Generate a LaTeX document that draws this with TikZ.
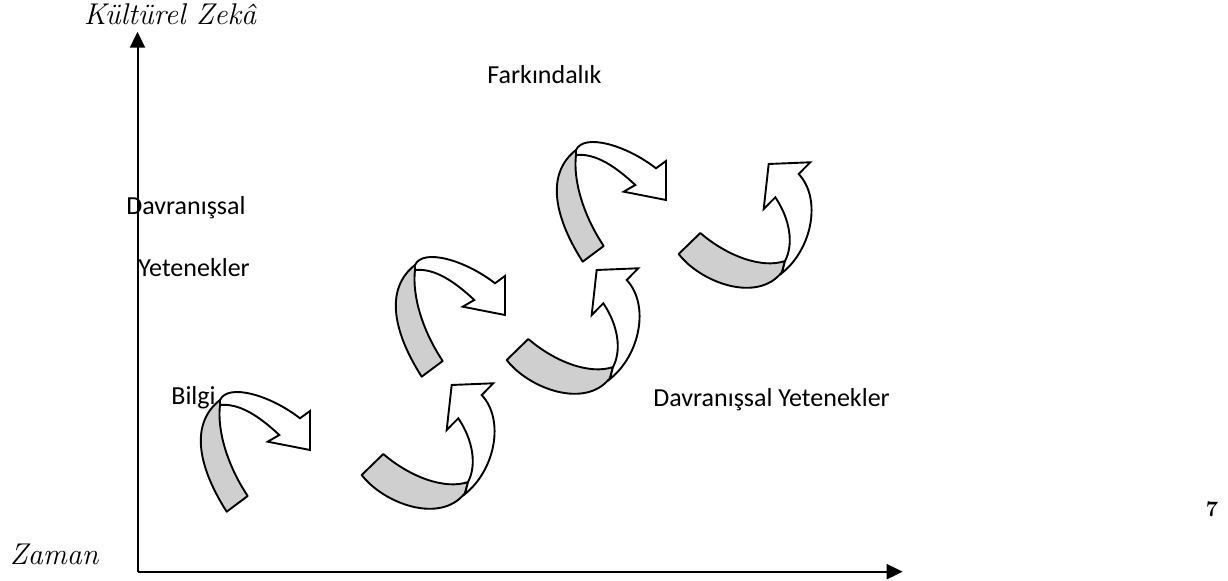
\documentclass[tikz,border=0pt]{standalone}
\usepackage{fontspec}
\newfontfamily\carl{Carlito}
\usetikzlibrary{arrows.meta}

\begin{document}
\begin{tikzpicture}[x=0.5pt,y=-0.5pt,
  lbl/.style={inner sep=0pt,anchor=base west,font=\carl\fontsize{13}{15}\selectfont},
  axtitle/.style={inner sep=0pt,anchor=base,font=\itshape\fontsize{15}{18}\selectfont},
  axis/.style={line width=1pt,-{Triangle[length=8pt,width=7.5pt]}},
  ribbon/.style={draw,line width=0.95pt,fill=black!19,line join=round},
  body/.style={draw,line width=0.95pt,fill=white,line join=miter}]
\useasboundingbox (0,0) rectangle (1228,581);
% labels
\node[axtitle] (kz) at (170,25) {Kültürel Zekâ};
\node[axtitle] (zaman) at (54,565) {Zaman};
\node[lbl] (fark) at (487,84) {Farkındalık};
\node[lbl] (dav1) at (126,215) {Davranışsal};
\node[lbl] (yet1) at (138,277) {Yetenekler};
\node[lbl] (bilgi) at (171,405) {Bilgi};
\node[lbl] (dav2) at (653,407) {Davranışsal Yetenekler};
\node[inner sep=0pt,anchor=base,font=\bfseries\fontsize{11}{13}\selectfont] (pno) at (1212,517) {7};
% axes
\coordinate (origin) at (137.5,571.7);
\coordinate (ytip) at (137.5,31.7);
\coordinate (xtip) at (902.7,571.7);
\draw[axis] (origin) -- (ytip);
\draw[axis] (origin) -- (xtip);
% arrows bending to the right
\foreach \dx/\dy in {-195/135,0/0,161/-115}{
  \begin{scope}[shift={(\dx,\dy)}]
    \path[ribbon] (421.7,376.7) .. controls (395,335) and (383,290) .. (415,265)
      -- (415,270) .. controls (412,295) and (422,330) .. (442.7,361) -- cycle;
    \path[body] (415,265) .. controls (423,248) and (465,260) .. (495,283.3)
      -- (505,276) -- (505,315) -- (462.7,306.7) -- (474.3,300)
      .. controls (455,282) and (435,268) .. (415,270) -- cycle;
  \end{scope}
}
% arrows bending upwards
\foreach \dx/\dy in {-145/115,0/0,172/-106}{
  \begin{scope}[shift={(\dx,\dy)}]
    \path[ribbon] (506.7,360) -- (528.3,339) .. controls (555,362) and (590,375) .. (613,367)
      -- (610,378) .. controls (585,410) and (528,388) .. (506.7,360) -- cycle;
    \path[body] (610,379) .. controls (640,355) and (650,305) .. (626.7,280)
      -- (638.3,268.3) -- (596.7,270) -- (591.7,315) -- (603.3,303.3)
      .. controls (618,325) and (622,350) .. (613,367) -- cycle;
  \end{scope}
}
\end{tikzpicture}
\end{document}
